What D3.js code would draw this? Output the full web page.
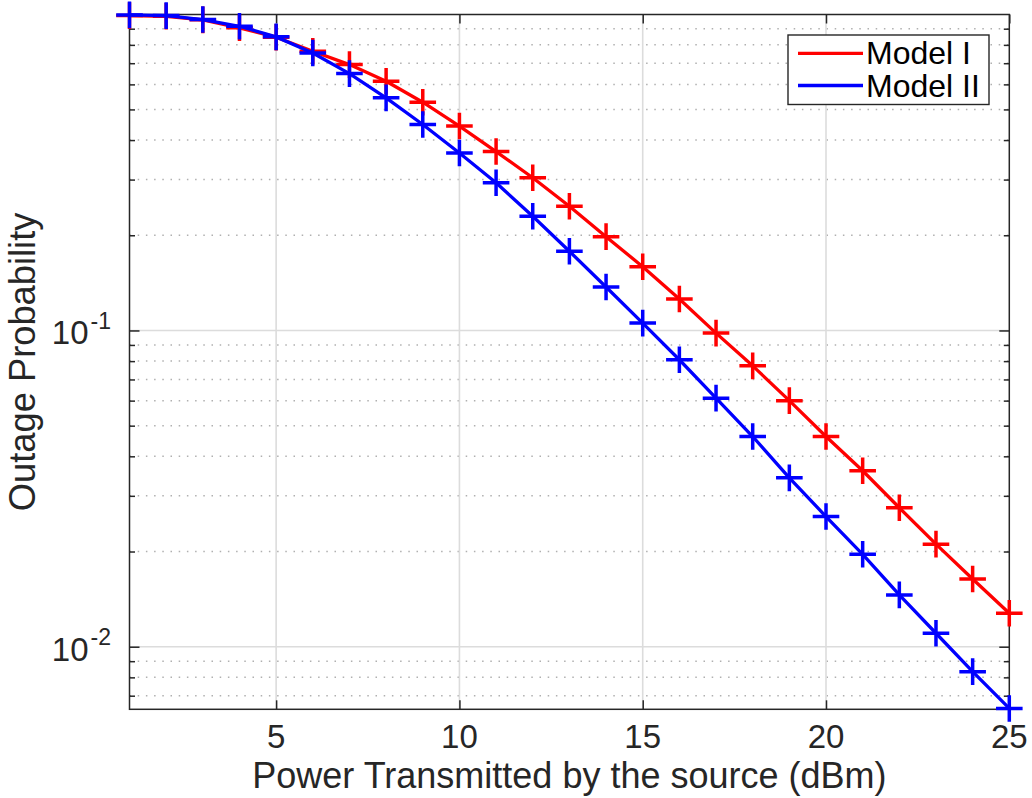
<!DOCTYPE html>
<html>
<head>
<meta charset="utf-8">
<script src="https://cdn.jsdelivr.net/npm/d3@7"></script>
<style>
  html, body { margin: 0; padding: 0; background: #fff; }
  svg { display: block; font-family: "Liberation Sans", Arial, Helvetica, sans-serif; }
</style>
</head>
<body>
<svg id="chart" width="1032" height="798"></svg>
<script>
// ---------- data ----------
const powerDbm = [1, 2, 3, 4, 5, 6, 7, 8, 9, 10, 11, 12, 13, 14, 15, 16, 17, 18, 19, 20, 21, 22, 23, 24, 25];
const modelI  = [0.990, 0.985, 0.960, 0.906, 0.846, 0.764, 0.693, 0.614, 0.527, 0.443, 0.368, 0.304, 0.247, 0.198, 0.159, 0.1257, 0.0981, 0.0773, 0.0600, 0.0462, 0.0360, 0.0275, 0.0211, 0.01638, 0.01276];
const modelII = [0.995, 0.990, 0.962, 0.916, 0.848, 0.754, 0.649, 0.544, 0.448, 0.364, 0.293, 0.2296, 0.178, 0.1372, 0.1055, 0.0808, 0.0611, 0.0462, 0.0342, 0.0258, 0.0196, 0.01458, 0.01103, 0.00834, 0.00638];
const seriesNames = ["Model I", "Model II"];
const xTicks = [5, 10, 15, 20, 25];
const yMajorTicks = [0.1, 0.01];
const yMajorExp = ["-1", "-2"];
const yMinorTicks = [0.007, 0.008, 0.009, 0.02, 0.03, 0.04, 0.05, 0.06, 0.07, 0.08, 0.09, 0.2, 0.3, 0.4, 0.5, 0.6, 0.7, 0.8, 0.9];
const xLabel = "Power Transmitted by the source (dBm)";
const yLabel = "Outage Probability";

// ---------- layout ----------
const L = 129.5, R = 1009.3, T = 14.5, B = 709.3;
const colors = ["#ff0000", "#0000ff"];
const axisColor = "#262626";

const svg = d3.select("#chart");
const x = d3.scaleLinear().domain([1, 25]).range([L, R]);
const y = d3.scaleLog().domain([0.00634, 0.998]).range([B, T]);

// grid
const grid = svg.append("g");
grid.selectAll("line.minor").data(yMinorTicks).join("line")
  .attr("x1", L).attr("x2", R)
  .attr("y1", d => y(d)).attr("y2", d => y(d))
  .attr("stroke", "#b0b0b0").attr("stroke-width", 1.5)
  .attr("stroke-dasharray", "1.5,6.7");
grid.selectAll("line.majy").data(yMajorTicks).join("line")
  .attr("x1", L).attr("x2", R)
  .attr("y1", d => y(d)).attr("y2", d => y(d))
  .attr("stroke", "#dcdcdc").attr("stroke-width", 1.6);
grid.selectAll("line.majx").data(xTicks.filter(d => d < 25)).join("line")
  .attr("x1", d => x(d)).attr("x2", d => x(d))
  .attr("y1", T).attr("y2", B)
  .attr("stroke", "#dcdcdc").attr("stroke-width", 1.6);

// axes via d3 axis generators (ticks inward)
const axStyle = g => {
  g.select(".domain").remove();
  g.selectAll(".tick line").attr("stroke", axisColor).attr("stroke-width", 1.5);
  g.selectAll(".tick text").remove();
};
svg.append("g").attr("transform", `translate(0,${B})`)
  .call(d3.axisBottom(x).tickValues(xTicks).tickSize(-9)).call(axStyle);
svg.append("g").attr("transform", `translate(0,${T})`)
  .call(d3.axisTop(x).tickValues(xTicks).tickSize(-9)).call(axStyle);
svg.append("g").attr("transform", `translate(${L},0)`)
  .call(d3.axisLeft(y).tickValues(yMajorTicks).tickSize(-10)).call(axStyle);
svg.append("g").attr("transform", `translate(${L},0)`)
  .call(d3.axisLeft(y).tickValues(yMinorTicks).tickSize(-5.5)).call(axStyle);
svg.append("g").attr("transform", `translate(${R},0)`)
  .call(d3.axisRight(y).tickValues(yMajorTicks).tickSize(-10)).call(axStyle);
svg.append("g").attr("transform", `translate(${R},0)`)
  .call(d3.axisRight(y).tickValues(yMinorTicks).tickSize(-5.5)).call(axStyle);

// box
svg.append("rect").attr("x", L).attr("y", T).attr("width", R - L).attr("height", B - T)
  .attr("fill", "none").attr("stroke", axisColor).attr("stroke-width", 1.5);

// tick labels
svg.append("g").selectAll("text").data(xTicks).join("text")
  .attr("x", d => x(d)).attr("y", 748)
  .attr("text-anchor", "middle").attr("font-size", 33).attr("fill", axisColor)
  .text(d => d);

const yl = svg.append("g").selectAll("g").data(yMajorTicks).join("g");
yl.append("text").attr("x", 88.5).attr("y", d => y(d) + 14)
  .attr("text-anchor", "end").attr("font-size", 33).attr("fill", axisColor).text("10");
yl.append("text").attr("x", 90.5).attr("y", d => y(d) - 1.5)
  .attr("text-anchor", "start").attr("font-size", 23).attr("fill", axisColor)
  .text((d, i) => yMajorExp[i]);

// axis titles
svg.append("text").attr("x", (L + R) / 2).attr("y", 788)
  .attr("text-anchor", "middle").attr("font-size", 36).attr("fill", axisColor).text(xLabel);
svg.append("text").attr("transform", `translate(35,${(T + B) / 2}) rotate(-90)`)
  .attr("text-anchor", "middle").attr("font-size", 36.3).attr("fill", axisColor).text(yLabel);

// series
const series = [modelI, modelII];
const line = d3.line().x((d, i) => x(powerDbm[i])).y(d => y(d));
series.forEach((vals, si) => {
  const g = svg.append("g");
  g.append("path").datum(vals).attr("d", line)
    .attr("fill", "none").attr("stroke", colors[si]).attr("stroke-width", 3.3)
    .attr("stroke-linejoin", "round");
  const m = 13.3;
  g.selectAll("path.mk").data(vals).join("path")
    .attr("d", (d, i) => {
      const cx = x(powerDbm[i]), cy = y(d);
      return `M${cx - m},${cy}H${cx + m}M${cx},${cy - m}V${cy + m}`;
    })
    .attr("stroke", colors[si]).attr("stroke-width", 3.5).attr("fill", "none");
});

// legend
const lg = svg.append("g");
lg.append("rect").attr("x", 788).attr("y", 35).attr("width", 201).attr("height", 69.5)
  .attr("fill", "#fff").attr("stroke", axisColor).attr("stroke-width", 1.4);
const legendRows = [
  { line: 53.3, base: 63.5 },
  { line: 85.5, base: 97 }
];
seriesNames.forEach((name, i) => {
  lg.append("line").attr("x1", 798).attr("x2", 863)
    .attr("y1", legendRows[i].line).attr("y2", legendRows[i].line)
    .attr("stroke", colors[i]).attr("stroke-width", 3.3);
  lg.append("text").attr("x", 866).attr("y", legendRows[i].base)
    .attr("font-size", 32).attr("fill", "#000").text(name);
});
</script>
</body>
</html>
